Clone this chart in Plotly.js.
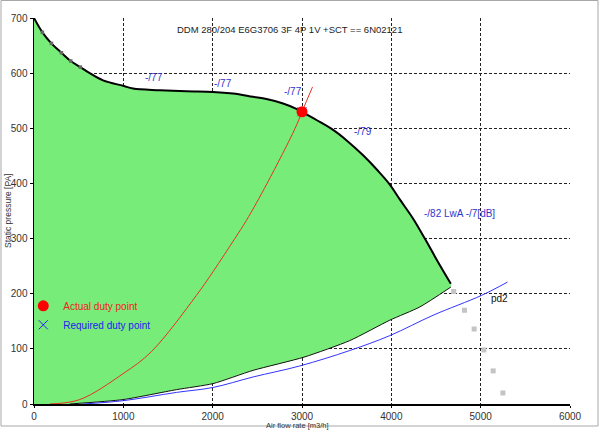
<!DOCTYPE html>
<html>
<head>
<meta charset="utf-8">
<script src="https://cdn.plot.ly/plotly-3.0.1.min.js"></script>
<style>html,body{margin:0;padding:0;background:#fff;}#chart{width:600px;height:430px;}</style>
</head>
<body>
<div id="chart"></div>
<script>
// Fan curve (upper boundary of working area)
const fanQ = [0, 94, 195, 307, 411, 519, 624, 773, 997, 1109, 1408, 1707, 2004, 2228, 2452, 2602, 2788, 2956, 3000, 3162, 3348, 3500, 3684, 3850, 3983, 4095, 4244, 4375, 4524, 4666];
const fanP = [700, 674, 654, 637, 622, 611, 600, 587, 577, 572, 569, 567, 566, 563, 557, 553, 545, 534, 530, 515, 497, 478, 451, 423, 398, 371, 336, 300, 257, 218];
// Gray markers on the start of the fan curve
const markQ = [94, 195, 307, 411, 519];
const markP = [674, 654, 637, 622, 611];
// Lower boundary of working area (left to right)
const minQ = [400, 997, 1594, 2004, 2452, 3023, 3535, 3983, 4319, 4666];
const minP = [0, 8, 26, 37, 61, 85, 115, 152, 176, 212];
// Required system curve (pd2)
const sysQ = [549, 997, 1594, 2004, 2452, 2975, 3535, 3983, 4468, 5010, 5300];
const sysP = [0, 6, 21, 30, 49, 69, 97, 124, 161, 197, 221];
// Actual system curve through duty point
const redQ = [176, 512, 997, 1314, 1818, 2004, 2248, 2378, 2609, 2923, 3000, 3118];
const redP = [0, 8, 55, 95, 197, 240, 300, 333, 400, 500, 530, 575];
// Gray squares
const grayQ = [4698, 4819, 4927, 5036, 5140, 5249];
const grayP = [204, 170, 136, 98, 60, 20];
// Duty points
const dutyQ = [3000], dutyP = [530];
const reqQ = [3000], reqP = [530];
// Sound labels
const soundQ = [1340, 2119, 2903, 3687, 4767];
const soundP = [593, 582, 566, 494, 345];
const soundT = ['-/77', '-/77', '-/77', '-/79', '-/82 LwA -/7[dB]'];
const titleText = 'DDM 280/204 E6G3706 3F 4P 1V +SCT == 6N02121';
const xTitle = 'Air flow rate [m3/h]';
const yTitle = 'Static pressure [PA]';
const xTicks = [0, 1000, 2000, 3000, 4000, 5000, 6000];
const yTicks = [0, 100, 200, 300, 400, 500, 600, 700];

const FONT = 'Liberation Sans, Arial, sans-serif';
const baseQ = [0].concat(minQ);
const baseP = [0].concat(minP);
const SM = 1;

const traces = [
  {x: baseQ, y: baseP, type: 'scatter', mode: 'lines', line: {width: 0, color: 'rgba(0,0,0,0)', shape: 'spline', smoothing: 0.6},
   showlegend: false, hoverinfo: 'skip'},
  {x: fanQ, y: fanP, type: 'scatter', mode: 'lines', fill: 'tonexty', fillcolor: '#78ec78',
   line: {width: 0, color: 'rgba(0,0,0,0)', shape: 'spline', smoothing: SM}, showlegend: false, hoverinfo: 'skip'},
  {x: minQ, y: minP, type: 'scatter', mode: 'lines', line: {color: '#111', width: 1, shape: 'spline', smoothing: 0.6}, showlegend: false},
  {x: sysQ, y: sysP, type: 'scatter', mode: 'lines', line: {color: '#3333ff', width: 1, shape: 'spline', smoothing: SM}, showlegend: false},
  {x: redQ, y: redP, type: 'scatter', mode: 'lines', line: {color: '#e83020', width: 1, shape: 'spline', smoothing: SM}, showlegend: false},
  {x: fanQ, y: fanP, type: 'scatter', mode: 'lines', line: {color: '#000', width: 2, shape: 'spline', smoothing: SM}, showlegend: false},
  {x: markQ, y: markP, type: 'scatter', mode: 'markers', marker: {symbol: 'square', size: 3.5, color: '#666'}, showlegend: false},
  {x: grayQ, y: grayP, type: 'scatter', mode: 'markers', marker: {symbol: 'square', size: 5, color: '#c4c4c4'}, showlegend: false},
  {x: reqQ, y: reqP, type: 'scatter', mode: 'markers', name: '<span style="color:#2222ee">Required duty point</span>',
   marker: {symbol: 'x-thin', size: 9, line: {color: '#2222ee', width: 1}}, legendrank: 2},
  {x: dutyQ, y: dutyP, type: 'scatter', mode: 'markers', name: '<span style="color:#ee2222">Actual duty point</span>',
   marker: {symbol: 'circle', size: 11, color: '#ff0000'}, legendrank: 1}
];

const annotations = soundQ.map((q, i) => ({
  x: q, y: soundP[i], xref: 'x', yref: 'y', text: soundT[i], showarrow: false,
  font: {family: FONT, size: 10, color: '#3333cc'}
}));
annotations.push({x: 5215, y: 192, xref: 'x', yref: 'y', text: 'pd2', showarrow: false,
  font: {family: FONT, size: 10, color: '#111'}});
annotations.push({x: 0.476, y: (404 - 22) / 386, xref: 'paper', yref: 'paper', text: titleText, showarrow: false,
  font: {family: FONT, size: 9.5, color: '#222'}});
annotations.push({x: (297 - 34) / 536, y: (404 - 425) / 386, xref: 'paper', yref: 'paper', text: xTitle, showarrow: false,
  xanchor: 'center', yanchor: 'middle', font: {family: FONT, size: 7.5, color: '#333'}});
annotations.push({x: (8 - 34) / 536, y: (404 - 211) / 386, xref: 'paper', yref: 'paper', text: yTitle, showarrow: false,
  textangle: -90, xanchor: 'center', yanchor: 'middle', font: {family: FONT, size: 8.5, color: '#333'}});

const layout = {
  width: 600, height: 430,
  margin: {l: 34, r: 30, t: 18, b: 26, pad: 0},
  paper_bgcolor: '#fff', plot_bgcolor: '#fff',
  font: {family: FONT, size: 10, color: '#333'},
  showlegend: true,
  legend: {x: -0.02, y: 0.292, xanchor: 'left', yanchor: 'top', bgcolor: 'rgba(0,0,0,0)',
    font: {family: FONT, size: 10}, tracegroupgap: 0, traceorder: 'normal'},
  xaxis: {range: [0, 6000], tickvals: xTicks, ticktext: xTicks.map(String), showgrid: true,
    gridcolor: '#222', griddash: '3px,2px', gridwidth: 1, zeroline: false,
    showline: true, linecolor: '#000', linewidth: 1.5, ticks: 'outside', ticklen: 2, tickcolor: '#000',
    tickfont: {family: FONT, size: 10, color: '#333'}},
  yaxis: {range: [0, 700], tickvals: yTicks, ticktext: yTicks.map(String), showgrid: true,
    gridcolor: '#222', griddash: '3px,2px', gridwidth: 1, zeroline: false,
    showline: true, linecolor: '#000', linewidth: 1.5, ticks: 'outside', ticklen: 3, tickcolor: '#000',
    tickfont: {family: FONT, size: 10, color: '#333'}},
  annotations: annotations,
  shapes: [
    {type: 'rect', xref: 'paper', yref: 'paper', x0: (1 - 34) / 536, x1: (598 - 34) / 536,
     y0: (404 - 426) / 386, y1: (404 - 0.5) / 386, line: {color: '#a8a8a8', width: 1}, layer: 'below'}
  ]
};

Plotly.newPlot('chart', traces, layout, {displayModeBar: false, staticPlot: true});
</script>
</body>
</html>
